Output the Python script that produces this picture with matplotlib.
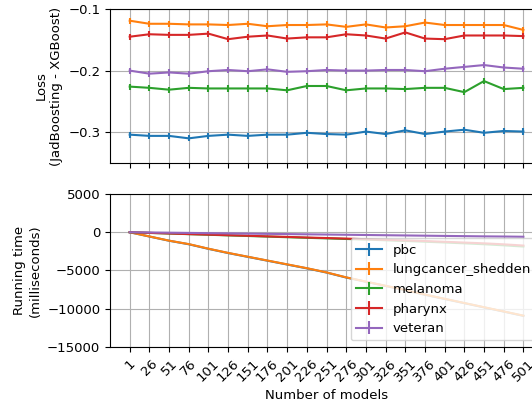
import matplotlib
matplotlib.use("Agg")
import matplotlib.pyplot as plt

plt.rcParams['font.size'] = 9.5

n_models = [1, 26, 51, 76, 101, 126, 151, 176, 201, 226, 251, 276, 301, 326, 351, 376, 401, 426, 451, 476, 501]

datasets = ["pbc", "lungcancer_shedden", "melanoma", "pharynx", "veteran"]

loss_pbc = [-0.304, -0.306, -0.306, -0.310, -0.306, -0.304, -0.306, -0.304, -0.304, -0.301, -0.303,
            -0.304, -0.299, -0.303, -0.297, -0.303, -0.299, -0.296, -0.301, -0.298, -0.299]
loss_lung = [-0.119, -0.124, -0.124, -0.125, -0.125, -0.126, -0.124, -0.128, -0.126, -0.126, -0.125,
             -0.129, -0.125, -0.130, -0.128, -0.122, -0.126, -0.126, -0.126, -0.126, -0.134]
loss_mel = [-0.226, -0.228, -0.231, -0.228, -0.229, -0.229, -0.229, -0.229, -0.232, -0.225, -0.225,
            -0.232, -0.229, -0.229, -0.230, -0.228, -0.228, -0.235, -0.217, -0.230, -0.228]
loss_phar = [-0.145, -0.141, -0.142, -0.142, -0.140, -0.149, -0.145, -0.143, -0.148, -0.146, -0.146,
             -0.141, -0.143, -0.148, -0.138, -0.148, -0.149, -0.143, -0.143, -0.143, -0.144]
loss_vet = [-0.200, -0.205, -0.203, -0.205, -0.201, -0.199, -0.201, -0.198, -0.202, -0.201, -0.199,
            -0.200, -0.200, -0.199, -0.199, -0.201, -0.197, -0.194, -0.191, -0.195, -0.197]

loss_err = [0.005, 0.005, 0.005, 0.005, 0.005, 0.005, 0.005, 0.005, 0.005, 0.005, 0.005,
            0.005, 0.005, 0.005, 0.005, 0.005, 0.005, 0.005, 0.005, 0.005, 0.005]

time_pbc = [0, -560, -1110, -1570, -2170, -2720, -3220, -3720, -4220, -4720, -5270,
            -5920, -6470, -7020, -7570, -8170, -8720, -9270, -9820, -10370, -10930]
time_lung = [0, -550, -1100, -1550, -2150, -2700, -3200, -3700, -4200, -4700, -5250,
             -5900, -6450, -7000, -7550, -8150, -8700, -9250, -9800, -10350, -10900]
time_mel = [0, -90, -170, -250, -330, -410, -490, -570, -650, -730, -800,
            -880, -960, -1050, -1140, -1240, -1340, -1450, -1570, -1710, -1870]
time_phar = [0, -80, -160, -240, -310, -390, -460, -540, -610, -690, -760,
             -830, -910, -990, -1070, -1150, -1250, -1350, -1450, -1580, -1740]
time_vet = [0, -30, -60, -90, -120, -150, -180, -210, -240, -270, -300,
            -330, -360, -390, -420, -450, -480, -510, -540, -560, -590]

time_err = [30, 30, 30, 30, 30, 30, 30, 30, 30, 30, 30,
            30, 30, 30, 30, 30, 30, 30, 30, 30, 30]

losses = [loss_pbc, loss_lung, loss_mel, loss_phar, loss_vet]
times = [time_pbc, time_lung, time_mel, time_phar, time_vet]

fig = plt.figure(figsize=(5.32, 4.09), dpi=100)
ax1 = fig.add_axes([0.2068, 0.6015, 0.814, 0.3765])
ax2 = fig.add_axes([0.2068, 0.1516, 0.814, 0.3741], sharex=ax1)

for name, l, t in zip(datasets, losses, times):
    ax1.errorbar(n_models, l, yerr=loss_err, label=name)
    ax2.errorbar(n_models, t, yerr=time_err, label=name)

ax1.set_ylim(-0.35, -0.1)
ax1.set_yticks([-0.3, -0.2, -0.1])
ax1.set_ylabel("Loss\n(JadBoosting - XGBoost)")
ax1.grid(True)
ax1.tick_params(labelbottom=False)

ax2.set_ylim(-15000, 5000)
ax2.set_yticks([-15000, -10000, -5000, 0, 5000])
ax2.set_xticks(n_models)
ax2.set_xticklabels([str(n) for n in n_models], rotation=45)
ax2.set_xlabel("Number of models")
ax2.set_ylabel("Running time\n(milliseconds)")
ax2.grid(True)
ax2.legend(loc="lower right")

fig.savefig("out.png", dpi=100)
